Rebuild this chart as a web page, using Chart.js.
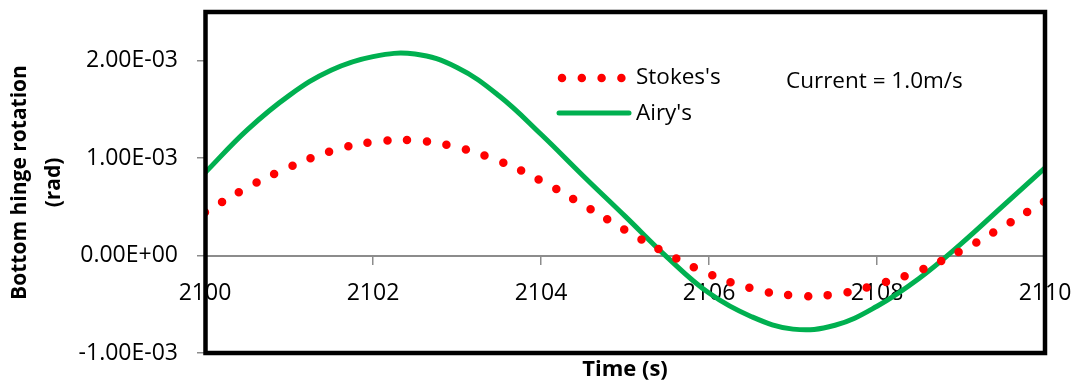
<!DOCTYPE html>
<html>
<head>
<meta charset="utf-8">
<script src="https://cdn.jsdelivr.net/npm/chart.js@4"></script>
<style>
  body { margin: 0; background: #fff; }
  canvas { display: block; }
</style>
</head>
<body>
<canvas id="hingeChart" width="1075" height="383"></canvas>
<script>
// time (s)
var times = [2100, 2100.5, 2101, 2101.5, 2102, 2102.5, 2103, 2103.5, 2104, 2104.5, 2105,
             2105.5, 2106, 2106.5, 2107, 2107.5, 2108, 2108.5, 2109, 2109.5, 2110];
// bottom hinge rotation (rad)
var stokesValues = [4.44e-4, 6.97e-4, 9.06e-4, 1.072e-3, 1.166e-3, 1.182e-3, 1.111e-3, 9.71e-4, 7.68e-4, 5.21e-4, 2.64e-4,
                    2.0e-5, -1.87e-4, -3.35e-4, -4.09e-4, -3.97e-4, -2.97e-4, -1.57e-4, 5.0e-5, 2.95e-4, 5.6e-4];
var airyValues = [8.5e-4, 1.288e-3, 1.642e-3, 1.902e-3, 2.042e-3, 2.068e-3, 1.93e-3, 1.64e-3, 1.245e-3, 8.2e-4, 4.05e-4,
                  -1.5e-5, -3.85e-4, -6.25e-4, -7.55e-4, -7.15e-4, -5.2e-4, -2.35e-4, 1.2e-4, 5.1e-4, 9.0e-4];
var seriesNames = ["Stokes's", "Airy's"];
var xTicks = [2100, 2102, 2104, 2106, 2108, 2110];
var yTicks = [-1e-3, 0, 1e-3, 2e-3];

var FONT = '"Open Sans", "Liberation Sans", sans-serif';
var RED = '#ff0000';
var GREEN = '#00b050';

function toPoints(vals) {
    return vals.map(function(v, i) { return { x: times[i], y: v }; });
}

// "2.00e-3" -> "2.00E-03"
function sciLabel(v) {
    var s = Number(v).toExponential(2).split('e');
    var exp = parseInt(s[1], 10);
    var sign = exp < 0 ? '-' : '+';
    var digits = String(Math.abs(exp));
    if (digits.length < 2) digits = '0' + digits;
    return s[0] + 'E' + sign + digits;
}

// frame, legend, note and x title
var extras = {
    id: 'extras',
    afterDraw: function(chart) {
        var ctx = chart.ctx;
        var a = chart.chartArea;
        ctx.save();

        ctx.strokeStyle = '#000';
        ctx.lineWidth = 4.5;
        ctx.setLineDash([]);
        ctx.strokeRect(a.left + 0.5, a.top, a.right - a.left - 0.5, a.bottom - a.top);

        // legend
        var ds = chart.data.datasets;
        ctx.lineCap = 'round';
        ctx.strokeStyle = ds[0].borderColor;
        ctx.lineWidth = ds[0].borderWidth;
        ctx.setLineDash(ds[0].borderDash);
        ctx.beginPath();
        ctx.moveTo(562, 78);
        ctx.lineTo(626, 78);
        ctx.stroke();

        ctx.setLineDash([]);
        ctx.strokeStyle = ds[1].borderColor;
        ctx.lineWidth = ds[1].borderWidth;
        ctx.beginPath();
        ctx.moveTo(559, 113);
        ctx.lineTo(629, 113);
        ctx.stroke();

        ctx.fillStyle = '#000';
        ctx.font = '22.5px ' + FONT;
        ctx.textAlign = 'left';
        ctx.textBaseline = 'middle';
        ctx.fillText(ds[0].label, 636, 78);
        ctx.fillText(ds[1].label, 636, 114);
        ctx.fillText('Current = 1.0m/s', 786, 82);

        ctx.font = 'bold 22px ' + FONT;
        ctx.textAlign = 'center';
        ctx.fillText('Time (s)', (a.left + a.right) / 2, 370);
        ctx.restore();
    }
};

var chart = new Chart(document.getElementById('hingeChart').getContext('2d'), {
    type: 'line',
    data: {
        datasets: [{
            label: seriesNames[0],
            data: toPoints(stokesValues),
            borderColor: RED,
            borderWidth: 8.5,
            borderDash: [0, 19.8],
            borderCapStyle: 'round',
            pointRadius: 0,
            tension: 0.4,
            fill: false
        }, {
            label: seriesNames[1],
            data: toPoints(airyValues),
            borderColor: GREEN,
            borderWidth: 5,
            pointRadius: 0,
            tension: 0.4,
            fill: false
        }]
    },
    plugins: [extras],
    options: {
        responsive: false,
        animation: false,
        devicePixelRatio: 1,
        layout: { padding: { left: 0, top: 12, right: 30, bottom: 30 } },
        plugins: {
            legend: { display: false },
            tooltip: { enabled: false }
        },
        scales: {
            x: {
                type: 'linear',
                position: { y: 0 },
                min: 2100,
                max: 2110,
                afterBuildTicks: function(scale) {
                    scale.ticks = xTicks.map(function(v) { return { value: v }; });
                },
                afterFit: function(scale) {
                    scale.paddingLeft = 0;
                    scale.paddingRight = 0;
                },
                ticks: {
                    color: '#000',
                    font: { family: FONT, size: 23 },
                    padding: 16,
                    maxRotation: 0,
                    callback: function(v) { return String(v); }
                },
                grid: { drawOnChartArea: false, tickLength: 8, color: '#8c8c8c', lineWidth: 1.5 },
                border: { display: true, color: '#8c8c8c', width: 2 }
            },
            y: {
                min: -1e-3,
                max: 2.5e-3,
                afterBuildTicks: function(scale) {
                    scale.ticks = yTicks.map(function(v) { return { value: v }; });
                },
                afterFit: function(scale) {
                    scale.width = 205;
                    scale.paddingTop = 0;
                    scale.paddingBottom = 0;
                },
                ticks: {
                    color: '#000',
                    font: { family: FONT, size: 23 },
                    padding: 19,
                    callback: function(v) { return sciLabel(v); }
                },
                grid: { drawOnChartArea: false, tickLength: 8, color: '#8c8c8c', lineWidth: 1.5 },
                border: { display: true, color: '#8c8c8c', width: 2 },
                title: {
                    display: true,
                    text: ['Bottom hinge rotation', '(rad)'],
                    color: '#000',
                    font: { family: FONT, size: 21, weight: 'bold', lineHeight: 1.6 },
                    padding: { top: 3.5, bottom: 0 }
                }
            }
        }
    }
});
</script>
</body>
</html>
